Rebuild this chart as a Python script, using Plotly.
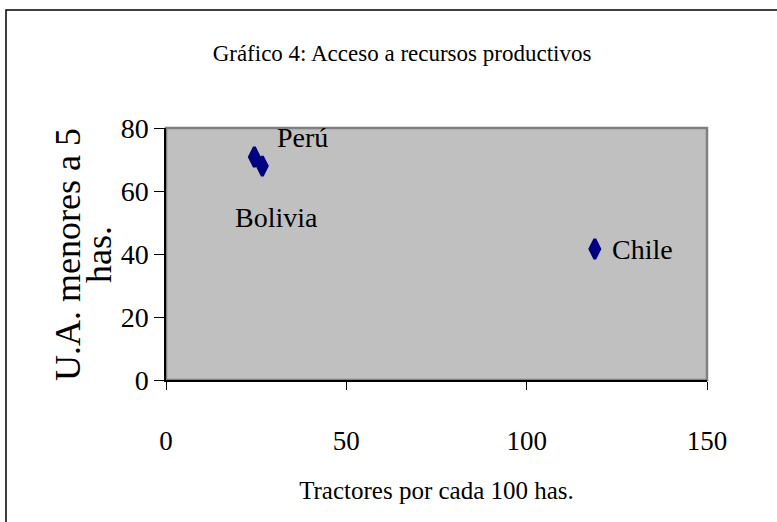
import plotly.graph_objects as go

countries = ["Bolivia", "Perú", "Chile"]
tractors = [24.5, 26.7, 118.9]
small_units = [70.8, 67.9, 41.6]
x_ticks = [0, 50, 100, 150]
y_ticks = [0, 20, 40, 60, 80]

title_text = "Gráfico 4: Acceso a recursos productivos"
x_title = "Tractores por cada 100 has."
y_title_lines = ["U.A. menores a 5", "has."]

FONT = "Liberation Serif"
label_offsets = {"Bolivia": (22, 61), "Perú": (40, -29), "Chile": (48, 1)}

W, H = 777, 522
L, R, T, B = 166, 70, 128, 142
pw, ph = W - L - R, H - T - B

fig = go.Figure()
fig.add_trace(go.Scatter(
    x=tractors, y=small_units, mode="markers",
    marker=dict(symbol="diamond-tall", size=14, color="#000080",
                line=dict(color="#000080", width=3)),
    hoverinfo="skip", showlegend=False,
))

for c, xv, yv in zip(countries, tractors, small_units):
    ax, ay = label_offsets[c]
    fig.add_annotation(x=xv, y=yv, xref="x", yref="y", text=c,
                       showarrow=True, arrowcolor="rgba(0,0,0,0)",
                       ax=ax, ay=ay,
                       font=dict(family=FONT, size=28, color="black"))

# y-axis title, two tightly spaced rotated lines
for line_text, px in zip(y_title_lines, [68, 99]):
    fig.add_annotation(xref="paper", yref="paper",
                       x=(px - L) / pw, y=(H - B - 255) / ph,
                       text=line_text, textangle=-90, showarrow=False,
                       xanchor="center", yanchor="middle",
                       font=dict(family=FONT, size=36, color="black"))

# outer chart border
fig.add_shape(type="rect", xref="paper", yref="paper",
              x0=(6 - L) / pw, x1=(W + 20 - L) / pw,
              y0=-(B + 20) / ph, y1=(H - B - 10) / ph,
              line=dict(color="black", width=1.5), fillcolor="rgba(0,0,0,0)",
              layer="below")
# plot area gray border
fig.add_shape(type="rect", xref="x domain", yref="y domain",
              x0=0, x1=1, y0=0, y1=1,
              line=dict(color="#808080", width=2.5), layer="below")

fig.update_layout(
    width=W, height=H,
    margin=dict(l=L, r=R, t=T, b=B),
    paper_bgcolor="white", plot_bgcolor="#C0C0C0",
    font=dict(family=FONT, color="black"),
    title=dict(text=title_text, x=402 / W, xanchor="center",
               y=1 - 53 / H, yanchor="middle",
               font=dict(family=FONT, size=23, color="black")),
)
fig.update_xaxes(range=[0, 150], tickvals=x_ticks, showgrid=False, zeroline=False,
                 showline=True, linecolor="black", linewidth=1.5,
                 ticks="outside", ticklen=8, tickcolor="black",
                 ticklabelstandoff=28,
                 tickfont=dict(family=FONT, size=27),
                 title=dict(text=x_title, standoff=26,
                            font=dict(family=FONT, size=25)))
fig.update_yaxes(range=[0, 80], tickvals=y_ticks, showgrid=False, zeroline=False,
                 showline=True, linecolor="black", linewidth=1.5,
                 ticks="outside", ticklen=10, tickcolor="black",
                 tickfont=dict(family=FONT, size=28))

fig.write_html("out.html", config={"displayModeBar": False},
               post_script="document.body.style.margin='0';")
